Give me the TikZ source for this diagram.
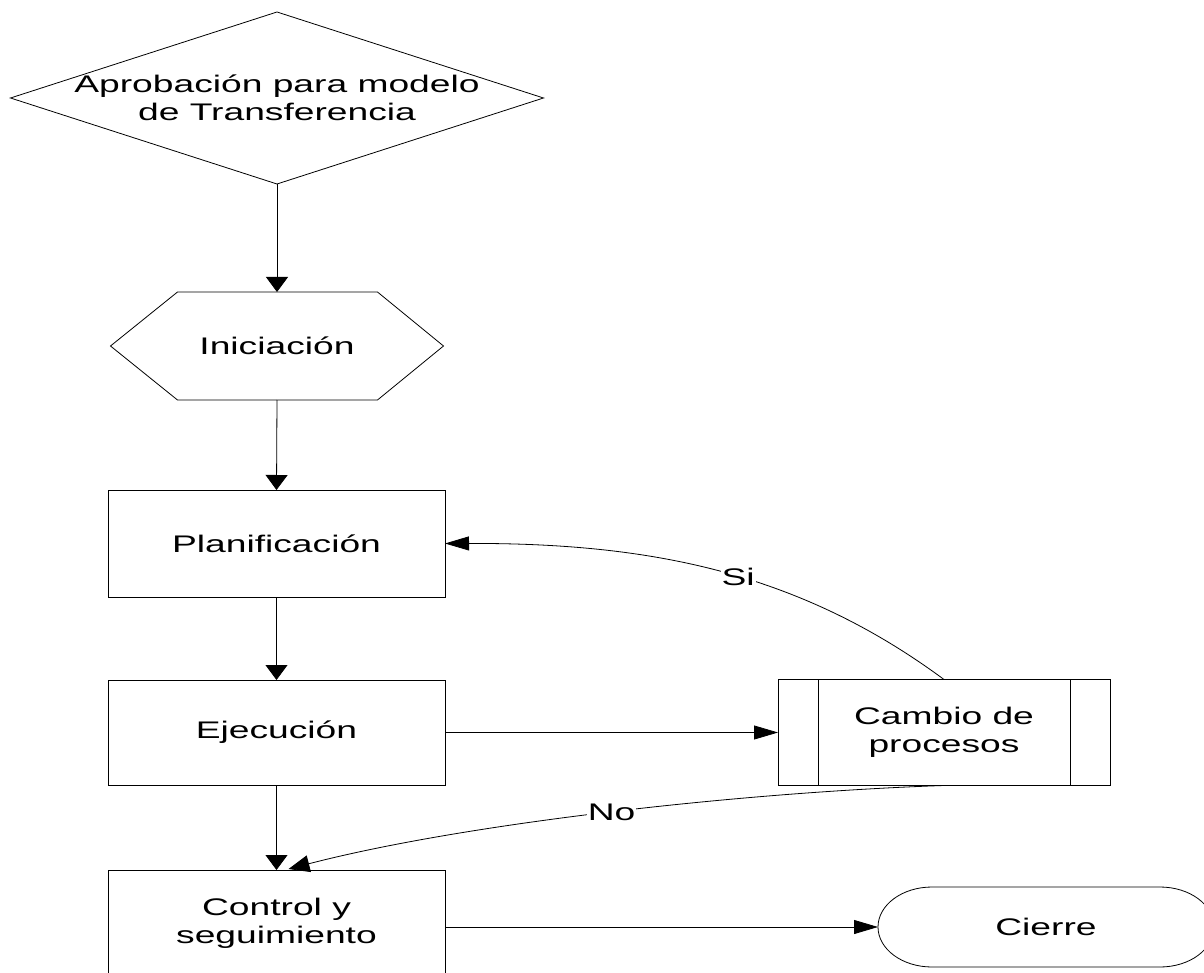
\documentclass[tikz,border=0pt]{standalone}
\usepackage{fontspec}
\setmainfont{Liberation Sans}[FakeStretch=1.55]
\usetikzlibrary{arrows.meta,calc}

\tikzset{
  txt/.style={font=\fontsize{24pt}{28pt}\selectfont, align=center, inner sep=0pt, outer sep=0pt},
  stepbox/.style={txt, draw, minimum width=337pt},
  varr/.style={-{Triangle[length=15pt,width=22pt]}},
  harr/.style={-{Triangle[length=24pt,width=14pt]}},
  darr/.style={-{Triangle[length=21pt,width=17pt]}},
  lbl/.style={txt, fill=white, inner sep=1pt}
}

\begin{document}
\begin{tikzpicture}[x=1pt, y=-1pt, line width=0.8pt, line join=miter]
  \clip (0,0) rectangle (1204,973);
  \fill[white] (0,0) rectangle (1204,973);

  % decision
  \node[txt, minimum width=533pt, minimum height=172pt] (appr) at (277,98)
    {Aprobación para modelo\\de Transferencia};
  \draw (appr.north) -- (appr.east) -- (appr.south) -- (appr.west) -- cycle;

  % preparation (hexagon)
  \node[txt, minimum width=333pt, minimum height=108pt] (ini) at (277,346) {Iniciación};
  \draw ($(ini.north west)+(67,0)$) -- ($(ini.north east)+(-66,0)$) -- (ini.east)
     -- ($(ini.south east)+(-66,0)$) -- ($(ini.south west)+(67,0)$) -- (ini.west) -- cycle;

  % process steps
  \node[stepbox, minimum height=107pt] (pl) at (276.5,543.5) {Planificación};
  \node[stepbox, minimum height=105pt] (ej) at (276.5,732.5) {Ejecución};
  \node[stepbox, minimum height=107pt] (ct) at (276.5,923.5) {Control y\\seguimiento};

  % predefined process
  \node[txt, draw, minimum width=332pt, minimum height=106pt] (cp) at (944,732.5) {Cambio de\\procesos};
  \draw ($(cp.north west)+(40,0)$) -- ($(cp.south west)+(40,0)$);
  \draw ($(cp.north east)+(-40,0)$) -- ($(cp.south east)+(-40,0)$);

  % terminator
  \node[txt, minimum width=336pt, minimum height=80pt] (cl) at (1046,927) {Cierre};
  \draw ($(cl.north west)+(54,0)$) -- ($(cl.north east)+(-54,0)$)
     .. controls +(29.8,0) and +(0,-22.1) .. (cl.east)
     .. controls +(0,22.1) and +(29.8,0) .. ($(cl.south east)+(-54,0)$)
     -- ($(cl.south west)+(54,0)$)
     .. controls +(-29.8,0) and +(0,22.1) .. (cl.west)
     .. controls +(0,-22.1) and +(-29.8,0) .. ($(cl.north west)+(54,0)$);

  % connectors
  \draw[varr] (appr.south) -- (ini.north);
  \draw[varr] (ini.south) -- (pl.north);
  \draw[varr] (pl.south) -- (ej.north);
  \draw[varr] (ej.south) -- (ct.north);
  \draw[harr] (ej.east) -- (cp.west);
  \draw[harr] (cp.north) .. controls (796,570) and (645,543) .. (pl.east)
     node[lbl, pos=0.45] {Si};
  \draw[darr] (cp.south) .. controls (750,792) and (470,822) .. ($(ct.north)+(12,-1)$)
     node[lbl, pos=0.5] {No};
  \draw[harr] (ct.east |- cl.west) -- (cl.west);
\end{tikzpicture}
\end{document}
